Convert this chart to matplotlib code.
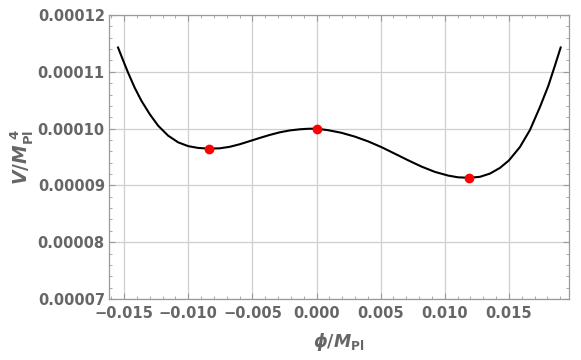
import matplotlib
matplotlib.use("Agg")
import matplotlib.pyplot as plt
from matplotlib.ticker import MultipleLocator, FuncFormatter

# curve V(phi)/M_Pl^4 (V in units of 1e-5)
phi = [-0.015475, -0.015085, -0.014695, -0.014173, -0.013650, -0.013003,
       -0.012355, -0.011575, -0.010795, -0.010015, -0.009235, -0.008400,
       -0.007543, -0.006763, -0.005983, -0.005203, -0.004423, -0.003643,
       -0.002863, -0.002083, -0.001303, -0.000679, 0.0, 0.000905, 0.001950,
       0.002987, 0.004025, 0.005070, 0.006107, 0.007145, 0.008190, 0.009227,
       0.010265, 0.011021, 0.011880, 0.012737, 0.013517, 0.014297, 0.014999,
       0.015857, 0.016637, 0.017417, 0.018065, 0.018587, 0.019032]
V = [11.428, 11.204, 10.986, 10.718, 10.489, 10.254,
     10.053, 9.877, 9.759, 9.692, 9.660, 9.648,
     9.653, 9.680, 9.725, 9.780, 9.836, 9.889,
     9.935, 9.968, 9.988, 9.997, 10.0, 9.972, 9.926,
     9.859, 9.775, 9.673, 9.558, 9.442, 9.331, 9.238,
     9.173, 9.143, 9.134, 9.151, 9.208, 9.308, 9.440,
     9.676, 9.975, 10.380, 10.750, 11.111, 11.428]
V = [v * 1e-5 for v in V]

# extrema marked in red
phi_pts = [-0.0084, 0.0, 0.01188]
V_pts = [9.648e-5, 10.0e-5, 9.134e-5]

plt.rcParams['font.family'] = 'DejaVu Sans'
plt.rcParams['mathtext.fontset'] = 'custom'
plt.rcParams['mathtext.rm'] = 'DejaVu Sans:bold'
plt.rcParams['mathtext.bf'] = 'DejaVu Sans:bold'
plt.rcParams['mathtext.it'] = 'DejaVu Sans:italic:bold'

label_col = '#666666'
frame_col = '#9a9a9a'

fig = plt.figure(figsize=(5.81, 3.6), dpi=100)
ax = fig.add_axes([0.1876, 0.1694, 0.7917, 0.7889])

ax.plot(phi, V, color='black', lw=1.5, zorder=3, solid_joinstyle='round')
ax.plot(phi_pts, V_pts, 'o', color='red', ms=6, mec='red', zorder=4)

ax.set_xlim(-0.01618, 0.01968)
ax.set_ylim(0.00007, 0.00012)

ax.xaxis.set_major_locator(MultipleLocator(0.005))
ax.xaxis.set_minor_locator(MultipleLocator(0.001))
ax.yaxis.set_major_locator(MultipleLocator(0.00001))
ax.yaxis.set_minor_locator(MultipleLocator(0.000002))
ax.xaxis.set_major_formatter(FuncFormatter(lambda v, p: ('%.3f' % v).replace('-', '\u2212')))
ax.yaxis.set_major_formatter(FuncFormatter(lambda v, p: '%.5f' % v))

ax.grid(True, which='major', color='#cfcfcf', lw=0.9)
ax.set_axisbelow(True)

for s in ax.spines.values():
    s.set_color(frame_col)
    s.set_linewidth(0.9)

ax.tick_params(which='both', direction='in', top=True, right=True,
               color=frame_col, labelcolor=label_col)
ax.tick_params(which='major', length=4, width=0.8, labelsize=10.5)
ax.tick_params(axis='x', which='major', pad=5)
ax.tick_params(axis='y', which='major', pad=3)
ax.tick_params(which='minor', length=2.2, width=0.6)
for lab in ax.get_xticklabels() + ax.get_yticklabels():
    lab.set_fontweight('bold')

ax.set_xlabel(r'$\phi/M_{\rm Pl}$', color=label_col, fontsize=12.5, labelpad=7)
ax.set_ylabel(r'$V/M_{\rm Pl}^{\ 4}$', color=label_col, fontsize=13.5, labelpad=2)

fig.savefig('out.png', dpi=100)
